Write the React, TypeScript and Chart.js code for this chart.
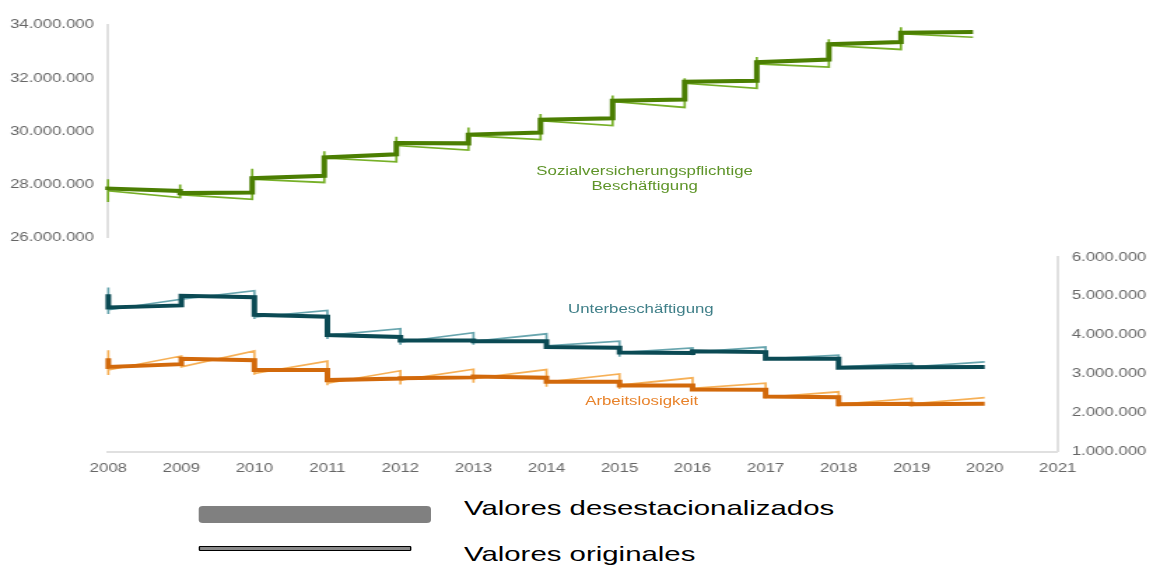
import React, { useEffect, useRef } from "react";
import { Chart, registerables } from "chart.js";

Chart.register(...registerables);

// ---------- data (values in millions) ----------
const years = [2008, 2009, 2010, 2011, 2012, 2013, 2014, 2015, 2016, 2017, 2018, 2019];
const lastYear = 2020;
const xMin = 2008;
const xMax = 2021;

// Sozialversicherungspflichtige Beschäftigung
const sozSaJan = [27.8, 27.76, 27.7, 28.33, 29.14, 29.55, 29.96, 30.49, 31.2, 31.9, 32.7, 33.36, 33.74];
const sozSaDec = [27.85, 27.68, 28.24, 29.02, 29.56, 29.88, 30.44, 31.15, 31.87, 32.6, 33.28, 33.71];
const sozOrigJan = [27.35, 27.51, 27.45, 28.08, 28.86, 29.3, 29.69, 30.22, 30.9, 31.62, 32.42, 33.08, 33.54];
const sozOrigPeak = [28.2, 28.0, 28.6, 29.25, 29.8, 30.15, 30.65, 31.35, 32.0, 32.8, 33.46, 33.92];
const sozOrigDec = [27.77, 27.62, 28.2, 29.0, 29.47, 29.84, 30.4, 31.12, 31.81, 32.54, 33.23, 33.67];

// Unterbeschäftigung
const unterSaJan = [5.05, 4.76, 4.97, 4.47, 3.95, 3.86, 3.84, 3.67, 3.54, 3.56, 3.39, 3.18, 3.18];
const unterSaDec = [4.71, 5.01, 4.52, 4.0, 3.86, 3.84, 3.69, 3.55, 3.58, 3.39, 3.16, 3.17];
const unterOrigJan = [5.22, 4.92, 5.14, 4.63, 4.16, 4.06, 4.03, 3.84, 3.67, 3.69, 3.48, 3.27, 3.31];
const unterOrigLow = [4.54, 4.8, 4.41, 3.9, 3.75, 3.75, 3.65, 3.44, 3.48, 3.35, 3.14, 3.12];
const unterOrigDec = [4.65, 4.92, 4.46, 3.99, 3.82, 3.84, 3.72, 3.55, 3.56, 3.39, 3.18, 3.18];

// Arbeitslosigkeit
const alSaJan = [3.4, 3.25, 3.35, 3.1, 2.88, 2.91, 2.9, 2.8, 2.7, 2.59, 2.4, 2.23, 2.23];
const alSaDec = [3.18, 3.39, 3.1, 2.84, 2.89, 2.93, 2.8, 2.7, 2.6, 2.42, 2.22, 2.22];
const alOrigJan = [3.61, 3.46, 3.59, 3.33, 3.08, 3.12, 3.11, 3.0, 2.9, 2.76, 2.54, 2.37, 2.39];
const alOrigLow = [2.97, 3.22, 2.97, 2.71, 2.73, 2.77, 2.67, 2.61, 2.56, 2.37, 2.16, 2.16];
const alOrigDec = [3.1, 3.18, 3.01, 2.76, 2.84, 2.88, 2.79, 2.71, 2.63, 2.4, 2.22, 2.23];

// axis ranges
const topMin = 26000000;
const topMax = 34000000;
const topStep = 2000000;
const botMin = 1000000;
const botMax = 6000000;
const botStep = 1000000;

// labels
const labelSoz = ["Sozialversicherungspflichtige", "Beschäftigung"];
const labelUnter = "Unterbeschäftigung";
const labelAl = "Arbeitslosigkeit";
const legendSa = "Valores desestacionalizados";
const legendOrig = "Valores originales";

// ---------- layout ----------
const W = 1153;
const H = 568;
const INNER_W = 824;
const SX = W / INNER_W;
const TOP_H = 255;
const FONT = "'Liberation Sans', Arial, Helvetica, sans-serif";
const MIO = 1000000;

function fmt(v: number | string): string {
  return Math.round(Number(v))
    .toString()
    .replace(/\B(?=(\d{3})+(?!\d))/g, ".");
}

function buildSeries(jan: number[], mid: number[] | null, dec: number[]) {
  const pts: { x: number; y: number }[] = [];
  years.forEach((yr, i) => {
    pts.push({ x: yr, y: jan[i] * MIO });
    if (mid) pts.push({ x: yr, y: mid[i] * MIO });
    pts.push({ x: yr, y: dec[i] * MIO });
  });
  pts.push({ x: lastYear, y: jan[years.length] * MIO });
  return pts;
}

function lineDs(data: any, color: string, width: number, order: number) {
  return {
    data,
    borderColor: color,
    backgroundColor: color,
    borderWidth: width,
    pointRadius: 0,
    tension: 0,
    clip: false as any,
    order,
    fill: false,
  };
}

const tickFont = { family: FONT, size: 12 };
const tickColor = "#666666";
const axisColor = "#e0e0e0";

export default function App() {
  const topRef = useRef<HTMLCanvasElement | null>(null);
  const botRef = useRef<HTMLCanvasElement | null>(null);

  useEffect(() => {
    if (!topRef.current || !botRef.current) return;

    const top = new Chart(topRef.current, {
      type: "line",
      data: {
        datasets: [
          lineDs(buildSeries(sozSaJan, null, sozSaDec), "#4b7e02", 4, 0),
          lineDs(buildSeries(sozOrigJan, sozOrigPeak, sozOrigDec), "rgba(112,172,28,0.95)", 1.7, 1),
        ] as any,
      },
      options: {
        animation: false,
        responsive: false,
        devicePixelRatio: 1,
        layout: { padding: { top: 25, right: 77.1, bottom: 9, left: 0 } },
        plugins: { legend: { display: false }, tooltip: { enabled: false } },
        scales: {
          x: { type: "linear", min: xMin, max: xMax, display: false },
          y: {
            position: "left",
            min: topMin,
            max: topMax,
            ticks: {
              stepSize: topStep,
              callback: (v: any) => fmt(v),
              color: tickColor,
              font: tickFont,
              padding: 10,
            },
            grid: { display: true, drawOnChartArea: false, drawTicks: false },
            border: { display: true, color: axisColor, width: 2 },
            afterFit: (s: any) => {
              s.width = 77.2;
            },
          },
        },
      } as any,
    });

    const bot = new Chart(botRef.current, {
      type: "line",
      data: {
        datasets: [
          lineDs(buildSeries(unterSaJan, null, unterSaDec), "#0b4a54", 4, 0),
          lineDs(buildSeries(alSaJan, null, alSaDec), "#d2690b", 4, 1),
          lineDs(buildSeries(unterOrigJan, unterOrigLow, unterOrigDec), "rgba(96,160,170,0.95)", 1.7, 2),
          lineDs(buildSeries(alOrigJan, alOrigLow, alOrigDec), "rgba(246,172,78,0.95)", 1.7, 3),
        ] as any,
      },
      options: {
        animation: false,
        responsive: false,
        devicePixelRatio: 1,
        layout: { padding: { top: 12, right: 0, bottom: 0, left: 77.4 } },
        plugins: { legend: { display: false }, tooltip: { enabled: false } },
        scales: {
          x: {
            type: "linear",
            min: xMin,
            max: xMax,
            ticks: {
              stepSize: 1,
              autoSkip: false,
              maxRotation: 0,
              callback: (v: any) => String(v),
              color: tickColor,
              font: tickFont,
              padding: 10,
            },
            grid: { display: true, drawOnChartArea: false, drawTicks: false },
            border: { display: true, color: axisColor, width: 2 },
            afterFit: (s: any) => {
              s.height = 28.3;
            },
          },
          y: {
            position: "right",
            min: botMin,
            max: botMax,
            ticks: {
              stepSize: botStep,
              callback: (v: any) => fmt(v),
              color: tickColor,
              font: tickFont,
              padding: 10,
            },
            grid: { display: true, drawOnChartArea: false, drawTicks: false },
            border: { display: true, color: axisColor, width: 2 },
            afterFit: (s: any) => {
              s.width = INNER_W - 755.9;
            },
          },
        },
      } as any,
    });

    return () => {
      top.destroy();
      bot.destroy();
    };
  }, []);

  const txt = (extra: React.CSSProperties): React.CSSProperties => ({
    position: "absolute",
    fontFamily: FONT,
    whiteSpace: "nowrap",
    ...extra,
  });

  return (
    <div
      style={{
        position: "fixed",
        left: 0,
        top: 0,
        width: INNER_W,
        height: H,
        background: "#ffffff",
        transform: `scaleX(${SX})`,
        transformOrigin: "0 0",
        overflow: "hidden",
      }}
    >
      <canvas
        ref={botRef}
        width={INNER_W}
        height={240}
        style={{ position: "absolute", left: 0, top: 240, width: INNER_W, height: 240 }}
      />
      <canvas
        ref={topRef}
        width={INNER_W}
        height={TOP_H}
        style={{ position: "absolute", left: 0, top: 0, width: INNER_W, height: TOP_H }}
      />

      <div
        style={txt({
          left: 460.7 - 120,
          width: 240,
          top: 164,
          textAlign: "center",
          fontSize: 12,
          lineHeight: "14.5px",
          color: "#5e9428",
        })}
      >
        {labelSoz[0]}
        <br />
        {labelSoz[1]}
      </div>
      <div
        style={txt({
          left: 458 - 100,
          width: 200,
          top: 302,
          textAlign: "center",
          fontSize: 12,
          lineHeight: "14px",
          color: "#3f7f88",
        })}
      >
        {labelUnter}
      </div>
      <div
        style={txt({
          left: 458.6 - 100,
          width: 200,
          top: 393.7,
          textAlign: "center",
          fontSize: 12,
          lineHeight: "14px",
          color: "#e8822a",
        })}
      >
        {labelAl}
      </div>

      {/* legend */}
      <div
        style={{
          position: "absolute",
          left: 142.2,
          top: 506,
          width: 165.8,
          height: 16.5,
          background: "#808080",
          borderRadius: 3,
        }}
      />
      <div style={txt({ left: 331.6, top: 496.7, fontSize: 21, lineHeight: "21px", color: "#000" })}>
        {legendSa}
      </div>
      <div
        style={{
          position: "absolute",
          left: 142.2,
          top: 545.5,
          width: 152.2,
          height: 5.5,
          background: "#8a8a8a",
          border: "1.5px solid #000",
          boxSizing: "border-box",
          borderRadius: 1,
        }}
      />
      <div style={txt({ left: 331.6, top: 542.7, fontSize: 21, lineHeight: "21px", color: "#000" })}>
        {legendOrig}
      </div>
    </div>
  );
}
